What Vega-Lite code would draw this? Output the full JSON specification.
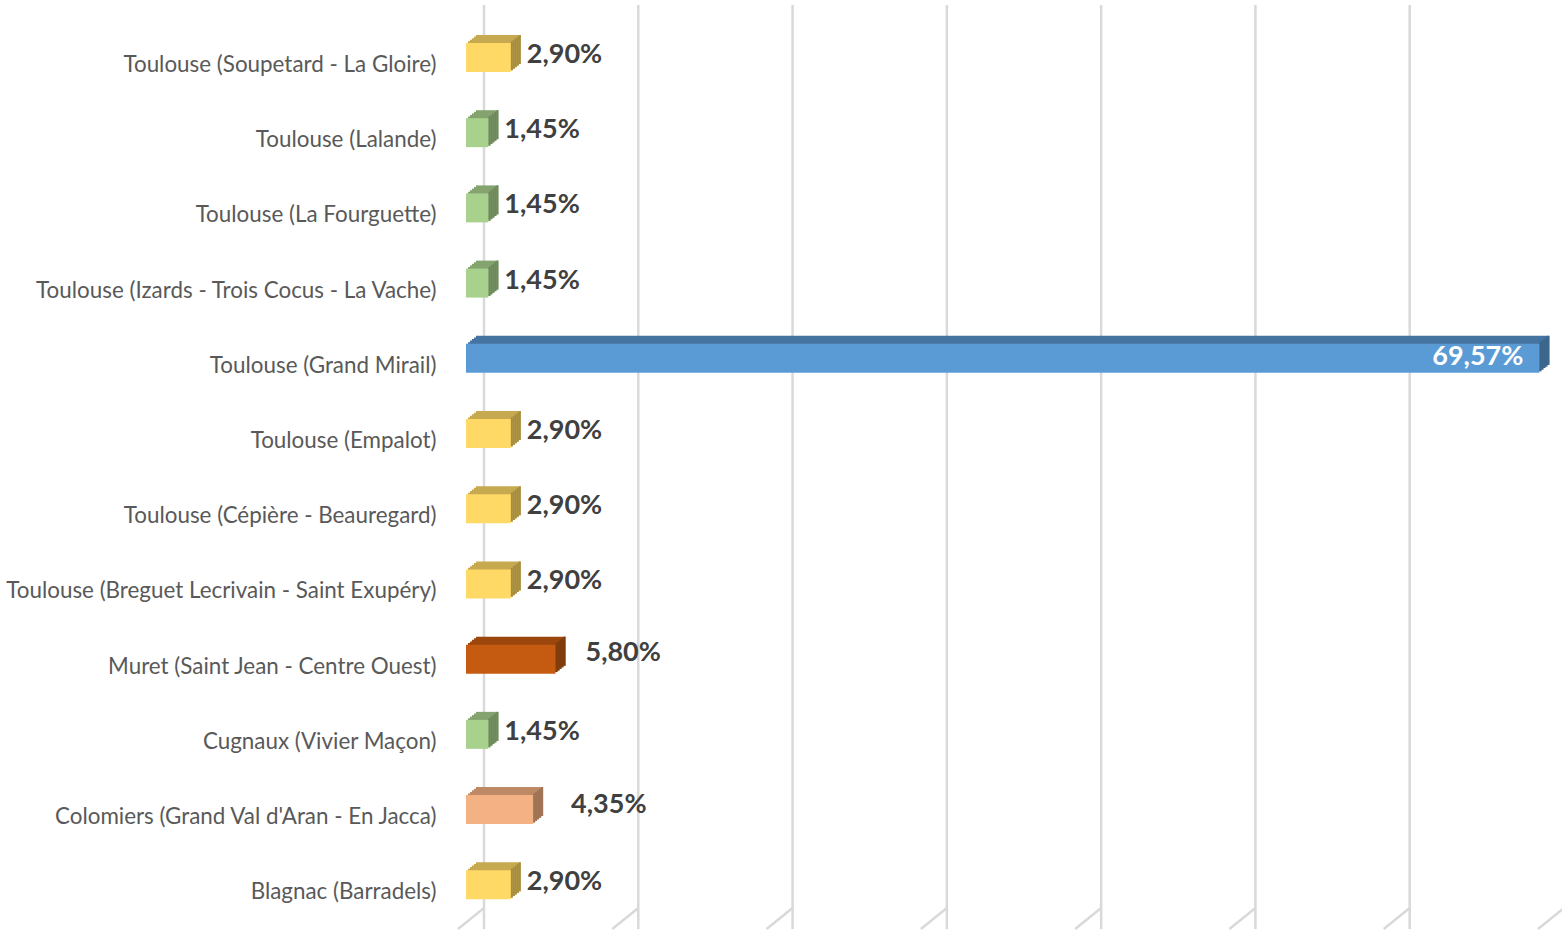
{
  "$schema": "https://vega.github.io/schema/vega-lite/v6.json",
  "autosize": {"type": "none"},
  "padding": {"left": 466, "top": 5, "right": 16, "bottom": 2},
  "width": 1080,
  "height": 924,
  "background": "white",
  "config": {"view": {"stroke": null}},
  "datasets": {
    "bars": [
      {"name": "Toulouse (Soupetard - La Gloire)", "value": 2.9, "label": "2,90%"},
      {"name": "Toulouse (Lalande)", "value": 1.45, "label": "1,45%"},
      {"name": "Toulouse (La Fourguette)", "value": 1.45, "label": "1,45%"},
      {"name": "Toulouse (Izards - Trois Cocus - La Vache)", "value": 1.45, "label": "1,45%"},
      {"name": "Toulouse (Grand Mirail)", "value": 69.57, "label": "69,57%"},
      {"name": "Toulouse (Empalot)", "value": 2.9, "label": "2,90%"},
      {"name": "Toulouse (Cépière - Beauregard)", "value": 2.9, "label": "2,90%"},
      {"name": "Toulouse (Breguet Lecrivain - Saint Exupéry)", "value": 2.9, "label": "2,90%"},
      {"name": "Muret (Saint Jean - Centre Ouest)", "value": 5.8, "label": "5,80%"},
      {"name": "Cugnaux (Vivier Maçon)", "value": 1.45, "label": "1,45%"},
      {"name": "Colomiers (Grand Val d'Aran - En Jacca)", "value": 4.35, "label": "4,35%"},
      {"name": "Blagnac (Barradels)", "value": 2.9, "label": "2,90%"}
    ],
    "grid": [{"v": 0}, {"v": 10}, {"v": 20}, {"v": 30}, {"v": 40}, {"v": 50}, {"v": 60}, {"v": 70}]
  },
  "layer": [
    {
      "data": {"name": "grid"},
      "mark": {"type": "rule", "color": "#D9D9D9", "strokeWidth": 2.5, "xOffset": 18, "y2Offset": -21},
      "encoding": {"x": {"field": "v", "type": "quantitative", "scale": {"domain": [0, 70], "nice": false, "zero": true}, "axis": null}}
    },
    {
      "data": {"name": "grid"},
      "mark": {"type": "rule", "color": "#D9D9D9", "strokeWidth": 2.5, "xOffset": -8, "x2Offset": 18, "yOffset": 0, "y2Offset": -21},
      "encoding": {
        "x": {"field": "v", "type": "quantitative", "scale": {"domain": [0, 70], "nice": false, "zero": true}, "axis": null},
        "x2": {"field": "v"},
        "y": {"value": "height"},
        "y2": {"value": "height"}
      }
    },
    {
      "data": {"name": "bars"},
      "encoding": {
        "y": {"field": "name", "type": "nominal", "sort": null,
          "scale": {"paddingInner": 0.6145, "paddingOuter": 0.45, "align": 0.561},
          "axis": {"title": null, "domain": false, "ticks": false, "labelPadding": 30, "labelFont": "Lato", "labelFontSize": 22.4, "labelColor": "#595959", "labelLimit": 600, "labelOffset": 7.5}},
        "x": {"field": "value", "type": "quantitative", "scale": {"domain": [0, 70], "nice": false, "zero": true}, "axis": null}
      },
      "resolve": {"scale": {"color": "independent"}},
      "layer": [
        {"mark": {"type": "bar", "xOffset": 2, "x2Offset": 2, "yOffset": -1.6},
         "encoding": {"color": {"field": "value", "type": "nominal", "legend": null, "scale": {"domain": [2.9, 1.45, 69.57, 5.8, 4.35], "range": ["#C7A950", "#84A36F", "#4674A0", "#9A460D", "#BE8A66"]}}}},
        {"mark": {"type": "bar", "xOffset": 4, "x2Offset": 4, "yOffset": -3.2},
         "encoding": {"color": {"field": "value", "type": "nominal", "legend": null, "scale": {"domain": [2.9, 1.45, 69.57, 5.8, 4.35], "range": ["#C7A950", "#84A36F", "#4674A0", "#9A460D", "#BE8A66"]}}}},
        {"mark": {"type": "bar", "xOffset": 6, "x2Offset": 6, "yOffset": -4.8},
         "encoding": {"color": {"field": "value", "type": "nominal", "legend": null, "scale": {"domain": [2.9, 1.45, 69.57, 5.8, 4.35], "range": ["#C7A950", "#84A36F", "#4674A0", "#9A460D", "#BE8A66"]}}}},
        {"mark": {"type": "bar", "xOffset": 8, "x2Offset": 8, "yOffset": -6.4},
         "encoding": {"color": {"field": "value", "type": "nominal", "legend": null, "scale": {"domain": [2.9, 1.45, 69.57, 5.8, 4.35], "range": ["#C7A950", "#84A36F", "#4674A0", "#9A460D", "#BE8A66"]}}}},
        {"mark": {"type": "bar", "xOffset": 10, "x2Offset": 10, "yOffset": -8},
         "encoding": {"color": {"field": "value", "type": "nominal", "legend": null, "scale": {"domain": [2.9, 1.45, 69.57, 5.8, 4.35], "range": ["#C7A950", "#84A36F", "#4674A0", "#9A460D", "#BE8A66"]}}}},
        {"mark": {"type": "bar", "xOffset": 0, "x2Offset": 2, "yOffset": -1.6},
         "encoding": {"x2": {"field": "value"}, "color": {"field": "value", "type": "nominal", "legend": null, "scale": {"domain": [2.9, 1.45, 69.57, 5.8, 4.35], "range": ["#A68D42", "#6E885C", "#3B658A", "#803B0B", "#9F7355"]}}}},
        {"mark": {"type": "bar", "xOffset": 2, "x2Offset": 4, "yOffset": -3.2},
         "encoding": {"x2": {"field": "value"}, "color": {"field": "value", "type": "nominal", "legend": null, "scale": {"domain": [2.9, 1.45, 69.57, 5.8, 4.35], "range": ["#A68D42", "#6E885C", "#3B658A", "#803B0B", "#9F7355"]}}}},
        {"mark": {"type": "bar", "xOffset": 4, "x2Offset": 6, "yOffset": -4.8},
         "encoding": {"x2": {"field": "value"}, "color": {"field": "value", "type": "nominal", "legend": null, "scale": {"domain": [2.9, 1.45, 69.57, 5.8, 4.35], "range": ["#A68D42", "#6E885C", "#3B658A", "#803B0B", "#9F7355"]}}}},
        {"mark": {"type": "bar", "xOffset": 6, "x2Offset": 8, "yOffset": -6.4},
         "encoding": {"x2": {"field": "value"}, "color": {"field": "value", "type": "nominal", "legend": null, "scale": {"domain": [2.9, 1.45, 69.57, 5.8, 4.35], "range": ["#A68D42", "#6E885C", "#3B658A", "#803B0B", "#9F7355"]}}}},
        {"mark": {"type": "bar", "xOffset": 8, "x2Offset": 10, "yOffset": -8},
         "encoding": {"x2": {"field": "value"}, "color": {"field": "value", "type": "nominal", "legend": null, "scale": {"domain": [2.9, 1.45, 69.57, 5.8, 4.35], "range": ["#A68D42", "#6E885C", "#3B658A", "#803B0B", "#9F7355"]}}}},
        {"mark": {"type": "bar"},
         "encoding": {"color": {"field": "value", "type": "nominal", "legend": null, "scale": {"domain": [2.9, 1.45, 69.57, 5.8, 4.35], "range": ["#FFD966", "#A9D18E", "#5B9BD5", "#C55A11", "#F4B183"]}}}},
        {"transform": [{"filter": "datum.value < 4"}],
         "mark": {"type": "text", "align": "left", "baseline": "middle", "dx": 16, "dy": -2.5, "font": "Lato", "fontWeight": "bold", "fontSize": 27, "color": "#404040"},
         "encoding": {"text": {"field": "label"}}},
        {"transform": [{"filter": "datum.value > 5 && datum.value < 50"}],
         "mark": {"type": "text", "align": "left", "baseline": "middle", "dx": 30, "dy": -6, "font": "Lato", "fontWeight": "bold", "fontSize": 27, "color": "#404040"},
         "encoding": {"text": {"field": "label"}}},
        {"transform": [{"filter": "datum.value > 4 && datum.value < 5"}],
         "mark": {"type": "text", "align": "left", "baseline": "middle", "dx": 38, "dy": -4.5, "font": "Lato", "fontWeight": "bold", "fontSize": 27, "color": "#404040"},
         "encoding": {"text": {"field": "label"}}},
        {"transform": [{"filter": "datum.value >= 50"}],
         "mark": {"type": "text", "align": "right", "baseline": "middle", "dx": -16, "dy": -1, "font": "Lato", "fontWeight": "bold", "fontSize": 27, "color": "#FFFFFF"},
         "encoding": {"text": {"field": "label"}}}
      ]
    }
  ]
}
